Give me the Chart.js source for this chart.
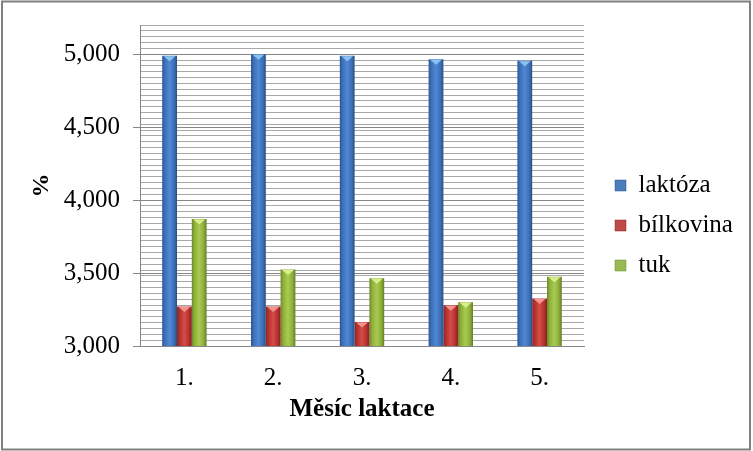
<!DOCTYPE html>
<html>
<head>
<meta charset="utf-8">
<script src="https://cdn.jsdelivr.net/npm/chart.js@4.4.0/dist/chart.umd.min.js"></script>
<style>
  html, body { margin: 0; padding: 0; background: #ffffff; }
  #wrap { width: 753px; height: 451px; position: relative; }
</style>
</head>
<body>
<div id="wrap"><canvas id="c" width="753" height="451"></canvas></div>
<script>
// ---- data ----
const categories = ['1.', '2.', '3.', '4.', '5.'];
const seriesNames = ['laktóza', 'bílkovina', 'tuk'];
const laktoza   = [4990, 5000, 4990, 4965, 4955];
const bilkovina = [3270, 3270, 3165, 3280, 3325];
const tuk       = [3870, 3525, 3465, 3300, 3475];
const yMajorTicks = [3000, 3500, 4000, 4500, 5000];
const yMin = 3000, yMax = 5200, yMinorStep = 40;
const xTitle = 'Měsíc laktace';
const yTitle = '%';

// ---- styles ----
const FONT = "'Liberation Serif', 'Times New Roman', serif";
const palettes = [
  { solid: '#4a7ebb', stops: ['#2b5794', '#3d72bb', '#4f88d4', '#3d6fb6', '#294f86'], tip: '#8cc2f0' },
  { solid: '#be4b48', stops: ['#8e2522', '#b8332f', '#d44c48', '#b4322e', '#84211f'], tip: '#f29490' },
  { solid: '#98b954', stops: ['#6d8829', '#90b23a', '#aacb52', '#8dae39', '#657f25'], tip: '#d6ee8e' }
];
const CAT_PCT = 0.5;

function barFill(di) {
  const p = palettes[di];
  return function (c) {
    if (c.type !== 'data') return p.solid;
    const xs = c.chart.scales.x;
    if (!xs) return p.solid;
    const catW = (xs.right - xs.left) / categories.length;
    const groupW = catW * CAT_PCT;
    const bw = groupW / seriesNames.length;
    const cx = xs.getPixelForValue(c.dataIndex);
    const left = cx - groupW / 2 + c.datasetIndex * bw;
    const g = c.chart.ctx.createLinearGradient(left, 0, left + bw, 0);
    g.addColorStop(0, p.stops[0]);
    g.addColorStop(0.2, p.stops[1]);
    g.addColorStop(0.5, p.stops[2]);
    g.addColorStop(0.8, p.stops[3]);
    g.addColorStop(1, p.stops[4]);
    return g;
  };
}

const yTickValues = (() => {
  const s = new Set();
  for (let v = yMin; v <= yMax; v += yMinorStep) s.add(v);
  yMajorTicks.forEach(v => s.add(v));
  return Array.from(s).sort((a, b) => a - b);
})();
const isMajor = v => yMajorTicks.includes(v);

const layoutPlugin = {
  id: 'layoutTweaks',
  beforeLayout(chart) {
    const lg = chart.legend;
    if (lg && !lg._patched) {
      const orig = lg.fit.bind(lg);
      lg.fit = function () { orig(); this.width = 169; };
      lg._patched = true;
    }
  },
  afterLayout(chart) {
    const lg = chart.legend;
    if (lg) { lg.left += 16; lg.right += 16; }
  }
};

const decoPlugin = {
  id: 'deco',
  afterDatasetsDraw(chart) {
    const ctx = chart.ctx;
    chart.data.datasets.forEach((ds, di) => {
      const meta = chart.getDatasetMeta(di);
      meta.data.forEach(el => {
        const { x, y, width } = el.getProps(['x', 'y', 'width'], true);
        ctx.save();
        ctx.fillStyle = palettes[di].tip;
        ctx.beginPath();
        ctx.moveTo(x - width / 2 + 1.5, y + 0.5);
        ctx.lineTo(x + width / 2 - 1.5, y + 0.5);
        ctx.lineTo(x, y + 5.5);
        ctx.closePath();
        ctx.fill();
        ctx.restore();
      });
    });
  },
  afterDraw(chart) {
    const ctx = chart.ctx;
    ctx.save();
    ctx.strokeStyle = '#808080';
    ctx.lineWidth = 2;
    ctx.strokeRect(2, 1.5, 748, 448);
    ctx.restore();
  }
};

new Chart(document.getElementById('c'), {
  type: 'bar',
  data: {
    labels: categories,
    datasets: [laktoza, bilkovina, tuk].map((vals, i) => ({
      label: seriesNames[i],
      data: vals,
      backgroundColor: barFill(i),
      borderWidth: 0,
      categoryPercentage: CAT_PCT,
      barPercentage: 1.0
    }))
  },
  options: {
    responsive: false,
    animation: false,
    devicePixelRatio: 1,
    layout: { padding: { left: 0, right: 0, top: 25, bottom: 25 } },
    plugins: {
      tooltip: { enabled: false },
      legend: {
        position: 'right',
        align: 'center',
        labels: {
          color: '#000',
          font: { family: FONT, size: 25 },
          boxWidth: 11,
          boxHeight: 11,
          padding: 15,
          generateLabels(chart) {
            return chart.data.datasets.map((ds, i) => ({
              text: ds.label,
              fillStyle: palettes[i].solid,
              strokeStyle: palettes[i].stops[0],
              lineWidth: 0.5,
              hidden: false,
              datasetIndex: i,
              fontColor: '#000'
            }));
          }
        }
      }
    },
    scales: {
      x: {
        grid: { display: false, drawTicks: false },
        border: { display: true, color: '#868686', width: 1 },
        ticks: { color: '#000', font: { family: FONT, size: 25 }, padding: 17 },
        title: { display: true, text: xTitle, color: '#000', font: { family: FONT, size: 25, weight: 'bold' }, padding: { top: 0, bottom: 1 } },
        afterFit(scale) { scale.height = 80; scale.paddingLeft = 0; scale.paddingRight = 0; }
      },
      y: {
        min: yMin,
        max: yMax,
        afterBuildTicks(scale) { scale.ticks = yTickValues.map(v => ({ value: v })); },
        ticks: {
          autoSkip: false,
          color: '#000',
          padding: 13,
          font: { family: FONT, size: 25 },
          callback: (v) => isMajor(v) ? v.toLocaleString('en-US') : ''
        },
        grid: {
          color: (c) => (c.tick && isMajor(c.tick.value)) ? '#868686' : '#a8a8a8',
          tickColor: (c) => (c.tick && isMajor(c.tick.value)) ? '#868686' : 'rgba(0,0,0,0)',
          tickLength: 7,
          lineWidth: 1
        },
        border: { display: true, color: '#868686', width: 1 },
        title: { display: true, text: yTitle, color: '#000', font: { family: FONT, size: 24, weight: 'bold' }, padding: { top: 27, bottom: 0 } },
        afterFit(scale) { scale.width = 140; scale.paddingTop = 0; scale.paddingBottom = 0; }
      }
    }
  },
  plugins: [layoutPlugin, decoPlugin]
});
</script>
</body>
</html>
